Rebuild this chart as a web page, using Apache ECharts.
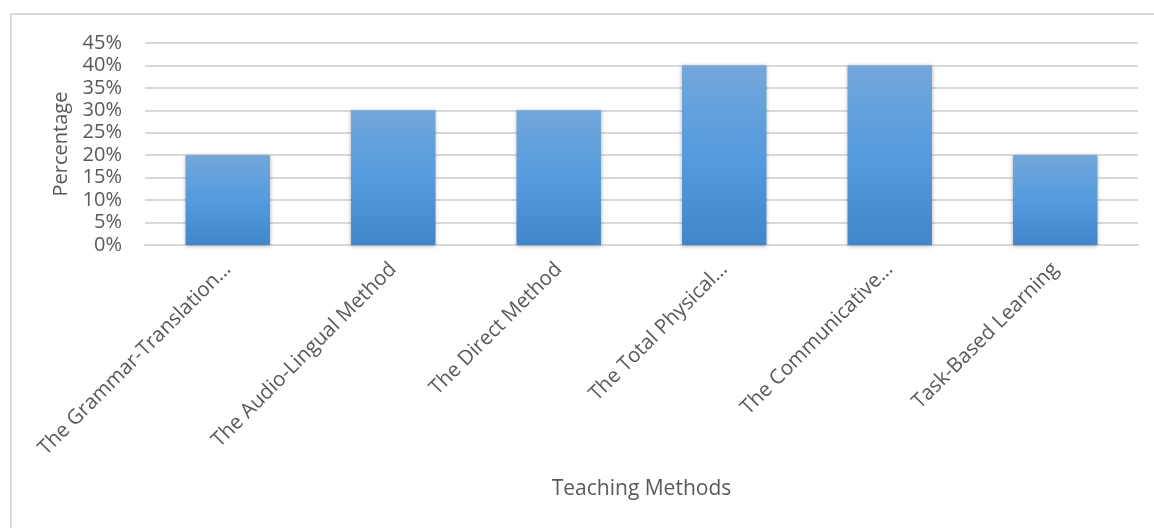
<!DOCTYPE html>
<html>
<head>
<meta charset="utf-8">
<script src="https://cdn.jsdelivr.net/npm/echarts@6/dist/echarts.min.js"></script>
<style>
  html, body { margin: 0; padding: 0; background: #fff; }
  #frame { position: absolute; left: 10px; top: 13px; width: 1160px; height: 530px;
           border-top: 2px solid #d9d9d9; border-left: 2px solid #d9d9d9; box-sizing: border-box; }
  #main { position: absolute; left: 0; top: 0; width: 1154px; height: 528px; }
</style>
</head>
<body>
<div id="frame"></div>
<div id="main"></div>
<script>
// teaching methods shown on the x axis (truncated as in the original)
var methods = [
  'The Grammar-Translation…',
  'The Audio-Lingual Method',
  'The Direct Method',
  'The Total Physical…',
  'The Communicative…',
  'Task-Based Learning'
];
// percentage values per method
var percentages = [20, 30, 30, 40, 40, 20];

var textColor = '#595959';
var fontName = 'Open Sans';

var chart = echarts.init(document.getElementById('main'));
chart.setOption({
  backgroundColor: 'transparent',
  animation: false,
  grid: {
    left: 145,
    right: 16,
    top: 43,
    bottom: 283
  },
  xAxis: {
    type: 'category',
    data: methods,
    name: 'Teaching Methods',
    nameLocation: 'middle',
    nameGap: 234,
    nameTextStyle: { color: textColor, fontSize: 21, fontFamily: fontName },
    axisLine: { lineStyle: { color: '#d9d9d9', width: 2 } },
    axisTick: { show: false },
    axisLabel: {
      rotate: 45,
      interval: 0,
      margin: 21,
      color: textColor,
      fontSize: 20.5,
      fontFamily: fontName
    }
  },
  yAxis: {
    type: 'value',
    min: 0,
    max: 45,
    interval: 5,
    name: 'Percentage',
    nameLocation: 'middle',
    nameGap: 72,
    nameTextStyle: { color: textColor, fontSize: 20, fontFamily: fontName },
    axisLine: { show: false },
    axisTick: { show: false },
    axisLabel: {
      margin: 23,
      color: textColor,
      fontSize: 20,
      fontFamily: fontName,
      formatter: '{value}%'
    },
    splitLine: { lineStyle: { color: '#d9d9d9', width: 2 } }
  },
  series: [{
    type: 'bar',
    data: percentages,
    barWidth: '51%',
    itemStyle: {
      color: new echarts.graphic.LinearGradient(0, 0, 0, 1, [
        { offset: 0, color: '#72a7db' },
        { offset: 0.5, color: '#559bdd' },
        { offset: 1, color: '#4086c8' }
      ]),
      shadowBlur: 4,
      shadowColor: 'rgba(0,0,0,0.35)',
      shadowOffsetY: 1
    }
  }]
});
</script>
</body>
</html>
